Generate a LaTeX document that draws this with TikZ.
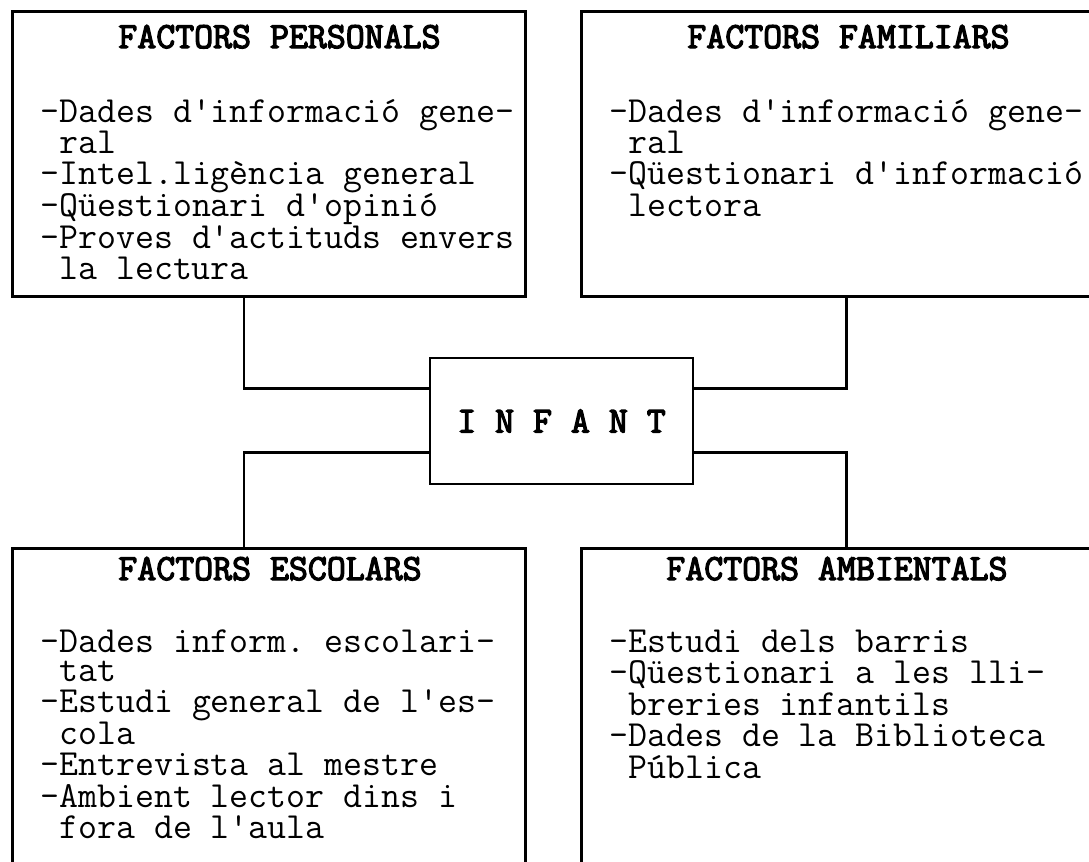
\documentclass[tikz,border=0pt]{standalone}
\usepackage{fontspec}
\setmonofont{Latin Modern Mono}[AutoFakeBold=3.5]
\usetikzlibrary{calc}

\tikzset{
  factorbox/.style={draw, line width=1.3pt, anchor=north west, inner sep=0pt,
    minimum width=256.5pt, minimum height=142.5pt},
  headtext/.style={anchor=base west, inner sep=0pt,
    font=\ttfamily\bfseries\fontsize{18.4pt}{14.65pt}\selectfont},
  listtext/.style={anchor=base west, inner sep=0pt,
    font=\ttfamily\fontsize{18.4pt}{14.65pt}\selectfont},
  infantbox/.style={draw, line width=1.3pt, inner sep=0pt,
    minimum width=131.5pt, minimum height=63pt,
    font=\ttfamily\bfseries\fontsize{18.4pt}{14.65pt}\selectfont},
  link/.style={line width=1.3pt}
}
\newcommand{\ind}{\hphantom{-}}
\newcommand{\factorlist}[1]{\begin{tabular}[t]{@{}l@{}}#1\end{tabular}}

\begin{document}
\begin{tikzpicture}[x=0.5pt,y=-0.5pt]
  \useasboundingbox (0,0) rectangle (1089,862);
  \clip (0,0) rectangle (1089,862);

  \node[factorbox] (personals) at (11,10) {};
  \node[factorbox] (familiars) at (580,10) {};
  \node[factorbox, minimum height=170pt] (escolars) at (11,547) {};
  \node[factorbox, minimum height=170pt] (ambientals) at (580,547) {};
  \node[infantbox] (infant) at (561.5,421) {I N F A N T};

  \node[headtext] (personalshead) at ($(personals.north west)+(107,38)$) {FACTORS PERSONALS};
  \node[listtext] (personalslist) at ($(personals.north west)+(29,112)$)
    {\factorlist{-Dades d'informació gene-\\ \ind ral\\ -Intel.ligència general\\
     -Qüestionari d'opinió\\ -Proves d'actituds envers\\ \ind la lectura}};

  \node[headtext] (familiarshead) at ($(familiars.north west)+(107,38)$) {FACTORS FAMILIARS};
  \node[listtext] (familiarslist) at ($(familiars.north west)+(29,112)$)
    {\factorlist{-Dades d'informació gene-\\ \ind ral\\ -Qüestionari d'informació\\ \ind lectora}};

  \node[headtext] (escolarshead) at ($(escolars.north west)+(107,33)$) {FACTORS ESCOLARS};
  \node[listtext] (escolarslist) at ($(escolars.north west)+(29,105)$)
    {\factorlist{-Dades inform. escolari-\\ \ind tat\\ -Estudi general de l'es-\\ \ind cola\\
     -Entrevista al mestre\\ -Ambient lector dins i\\ \ind fora de l'aula}};

  \node[headtext] (ambientalshead) at ($(ambientals.north west)+(86,33)$) {FACTORS AMBIENTALS};
  \node[listtext] (ambientalslist) at ($(ambientals.north west)+(29,105)$)
    {\factorlist{-Estudi dels barris\\ -Qüestionari a les lli-\\ \ind breries infantils\\
     -Dades de la Biblioteca\\ \ind Pública}};

  \begin{scope}[link]
    \draw ($(personals.south west)!.452!(personals.south east)$) |- ($(infant.north west)!.246!(infant.south west)$);
    \draw ($(escolars.north west)!.452!(escolars.north east)$) |- ($(infant.north west)!.746!(infant.south west)$);
    \draw ($(familiars.south west)!.517!(familiars.south east)$) |- ($(infant.north east)!.246!(infant.south east)$);
    \draw ($(ambientals.north west)!.517!(ambientals.north east)$) |- ($(infant.north east)!.746!(infant.south east)$);
  \end{scope}
\end{tikzpicture}
\end{document}
